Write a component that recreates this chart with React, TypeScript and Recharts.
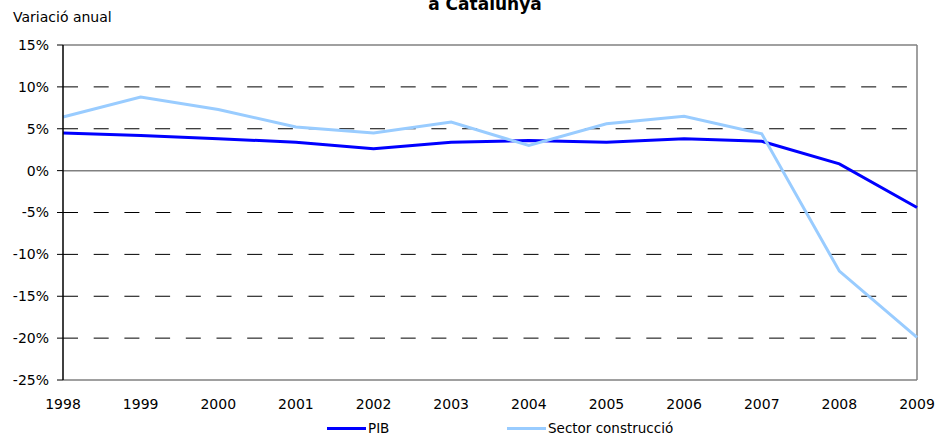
import React from 'react';
import { LineChart, Line, XAxis, YAxis, ReferenceLine, Legend } from 'recharts';

const years = ['1998', '1999', '2000', '2001', '2002', '2003', '2004', '2005', '2006', '2007', '2008', '2009'];
const pib = [4.5, 4.2, 3.8, 3.4, 2.6, 3.4, 3.6, 3.4, 3.8, 3.5, 0.8, -4.4];
const construccio = [6.4, 8.8, 7.3, 5.2, 4.5, 5.8, 3.0, 5.6, 6.5, 4.4, -12.0, -19.9];
const yTicks = [-25, -20, -15, -10, -5, 0, 5, 10, 15];
const dashedLines = [10, 5, -5, -10, -15, -20];

const data = years.map((y, i) => ({ year: y, pib: pib[i], construccio: construccio[i] }));

const FONT = '"DejaVu Sans", sans-serif';

const LegendContent = () => (
  <div style={{ position: 'relative', width: 937, height: 0, fontFamily: FONT, fontSize: 13.5, lineHeight: '16px', color: '#000' }}>
    <div style={{ position: 'absolute', left: 327, top: 0, height: 16, display: 'flex', alignItems: 'center', whiteSpace: 'nowrap' }}>
      <span style={{ display: 'inline-block', width: 39, height: 3, background: '#0000FF', marginRight: 2 }} />
      <span>PIB</span>
    </div>
    <div style={{ position: 'absolute', left: 507, top: 0, height: 16, display: 'flex', alignItems: 'center', whiteSpace: 'nowrap' }}>
      <span style={{ display: 'inline-block', width: 39, height: 3, background: '#99CCFF', marginRight: 2 }} />
      <span>Sector construcció</span>
    </div>
  </div>
);

export default function App() {
  return (
    <div style={{ position: 'absolute', left: 0, top: 0, width: 937, height: 437, background: '#fff', fontFamily: FONT }}>
      <div style={{ position: 'absolute', left: 0, top: -6, width: 970, textAlign: 'center', fontWeight: 'bold', fontSize: 17, fontFamily: FONT, color: '#000' }}>
        a Catalunya
      </div>
      <div style={{ position: 'absolute', left: 13, top: 9, fontSize: 14, fontFamily: FONT, color: '#000' }}>
        Variació anual
      </div>
      <LineChart width={937} height={437} data={data} margin={{ top: 45, right: 20, bottom: 0, left: 0 }}>
        <XAxis
          dataKey="year"
          height={57}
          tickSize={0}
          tickMargin={19}
          tickLine={false}
          axisLine={{ stroke: '#808080', strokeWidth: 1.5 }}
          tick={{ fill: '#000', fontSize: 14, fontFamily: FONT }}
          interval={0}
        />
        <YAxis
          width={63}
          domain={[-25, 15]}
          ticks={yTicks}
          allowDataOverflow
          tickFormatter={(v) => `${v}%`}
          tickSize={6}
          tickMargin={8}
          tickLine={{ stroke: '#000' }}
          axisLine={{ stroke: '#000', strokeWidth: 1.5 }}
          tick={{ fill: '#000', fontSize: 14, fontFamily: FONT }}
          interval={0}
        />
        {dashedLines.map((v) => (
          <ReferenceLine key={v} y={v} stroke="#000" strokeWidth={1} strokeDasharray="15 15.7" />
        ))}
        <ReferenceLine y={0} stroke="#808080" strokeWidth={1.5} />
        <ReferenceLine y={15} stroke="#808080" strokeWidth={1.5} />
        <ReferenceLine x="2009" stroke="#808080" strokeWidth={1.5} />
        <Line dataKey="pib" name="PIB" stroke="#0000FF" strokeWidth={3} dot={false} isAnimationActive={false} />
        <Line dataKey="construccio" name="Sector construcció" stroke="#99CCFF" strokeWidth={3} dot={false} isAnimationActive={false} />
        <Legend
          content={<LegendContent />}
          wrapperStyle={{ position: 'absolute', left: 0, top: 420, width: 937, height: 0 }}
        />
      </LineChart>
    </div>
  );
}
